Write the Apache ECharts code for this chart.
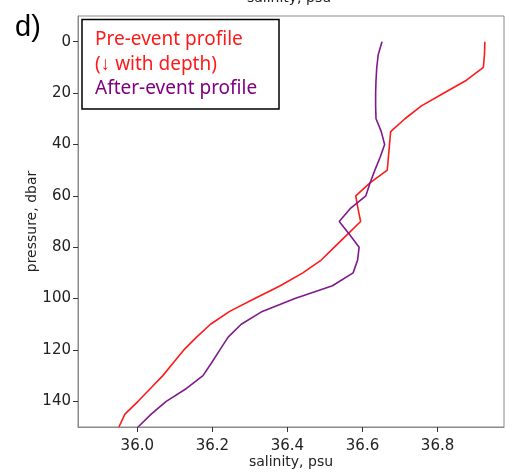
<!DOCTYPE html>
<html>
<head>
<meta charset="utf-8">
<script src="https://cdn.jsdelivr.net/npm/echarts@6/dist/echarts.min.js"></script>
<style>
  html, body { margin: 0; padding: 0; background: #fff; }
  #chart { width: 513px; height: 474px; }
</style>
</head>
<body>
<div id="chart"></div>
<script>
// Pressure levels (dbar) shared by both profiles
const pressure = [0, 5, 10, 15, 20, 25, 30, 35, 40, 45, 50, 55, 60, 65, 70, 75,
  80, 85, 90, 95, 100, 105, 110, 115, 120, 125, 130, 135, 140, 145, 150];

// Salinity (psu) before the event
const preEvent = [36.926, 36.925, 36.922, 36.877, 36.817, 36.757, 36.713, 36.675,
  36.672, 36.669, 36.666, 36.620, 36.582, 36.588, 36.595, 36.560,
  36.525, 36.490, 36.441, 36.381, 36.313, 36.246, 36.195, 36.158,
  36.124, 36.096, 36.068, 36.035, 36.002, 35.967, 35.951];

// Salinity (psu) after the event
const afterEvent = [36.652, 36.642, 36.638, 36.636, 36.635, 36.635, 36.636, 36.650,
  36.659, 36.647, 36.633, 36.620, 36.609, 36.567, 36.538, 36.565,
  36.591, 36.587, 36.575, 36.520, 36.420, 36.333, 36.277, 36.242,
  36.220, 36.198, 36.175, 36.131, 36.077, 36.037, 36.002];

const xTicks = [36.0, 36.2, 36.4, 36.6, 36.8];
const yTicks = [0, 20, 40, 60, 80, 100, 120, 140];

const legendLines = ['Pre-event profile', '(\u2193 with depth)', 'After-event profile'];

const toPairs = (sal) => sal.map((s, i) => [s, pressure[i]]);

const chart = echarts.init(document.getElementById('chart'), null, { renderer: 'canvas' });

const tickFont = { fontFamily: 'DejaVu Sans', fontSize: 15, color: '#222' };
const axisGray = '#8a8a8a';

chart.setOption({
  animation: false,
  backgroundColor: '#ffffff',
  grid: {
    left: 78, right: 9, top: 16, bottom: 42,
    show: true, borderColor: axisGray, borderWidth: 1, backgroundColor: 'transparent'
  },
  xAxis: {
    type: 'value',
    min: 35.842, max: 36.977,
    name: 'salinity, psu',
    nameLocation: 'middle',
    nameGap: 28,
    nameMoveOverlap: false,
    nameTextStyle: { fontFamily: 'DejaVu Sans', fontSize: 14, color: '#222' },
    axisLine: { show: true, onZero: false, lineStyle: { color: axisGray, width: 1 } },
    axisTick: { show: true, length: 5, lineStyle: { color: '#333' }, customValues: xTicks },
    axisLabel: { ...tickFont, margin: 12, customValues: xTicks,
      formatter: (v) => v.toFixed(1) },
    splitLine: { show: false }
  },
  yAxis: {
    type: 'value',
    inverse: true,
    min: -10, max: 150,
    name: 'pressure, dbar',
    nameLocation: 'middle',
    nameGap: 39,
    nameMoveOverlap: false,
    nameRotate: 90,
    nameTextStyle: { fontFamily: 'DejaVu Sans', fontSize: 14, color: '#222' },
    axisLine: { show: true, onZero: false, lineStyle: { color: axisGray, width: 1 } },
    axisTick: { show: true, length: 5, lineStyle: { color: '#333' }, customValues: yTicks },
    axisLabel: { ...tickFont, margin: 7, customValues: yTicks },
    splitLine: { show: false }
  },
  series: [
    {
      name: legendLines[0],
      type: 'line',
      data: toPairs(preEvent),
      symbol: 'none',
      clip: true,
      lineStyle: { color: '#ff1a1a', width: 1.6 }
    },
    {
      name: legendLines[2],
      type: 'line',
      data: toPairs(afterEvent),
      symbol: 'none',
      clip: true,
      lineStyle: { color: '#7f1a8c', width: 1.6 }
    }
  ],
  graphic: [
    {
      type: 'text', left: 15, top: 13,
      style: { text: 'd)', font: '29px "Liberation Sans", Arial, sans-serif', fill: '#000' }
    },
    {
      type: 'text', x: 289, y: -2,
      style: { text: 'salinity, psu', font: '14px "DejaVu Sans"', fill: '#222',
        align: 'center', verticalAlign: 'middle' }
    },
    {
      type: 'rect',
      shape: { x: 82, y: 19.5, width: 197, height: 89.5 },
      style: { fill: '#fff', stroke: '#000', lineWidth: 1.5 },
      z: 10
    },
    {
      type: 'text', x: 95, y: 39.5, z: 11,
      style: { text: legendLines[0], font: '19px "Noto Sans"', fill: '#ff1a1a', verticalAlign: 'middle' }
    },
    {
      type: 'text', x: 95, y: 64.5, z: 11,
      style: { text: legendLines[1], font: '19px "Noto Sans"', fill: '#ff1a1a', verticalAlign: 'middle' }
    },
    {
      type: 'text', x: 95, y: 89, z: 11,
      style: { text: legendLines[2], font: '19px "Noto Sans"', fill: '#800080', verticalAlign: 'middle' }
    }
  ]
});
</script>
</body>
</html>
